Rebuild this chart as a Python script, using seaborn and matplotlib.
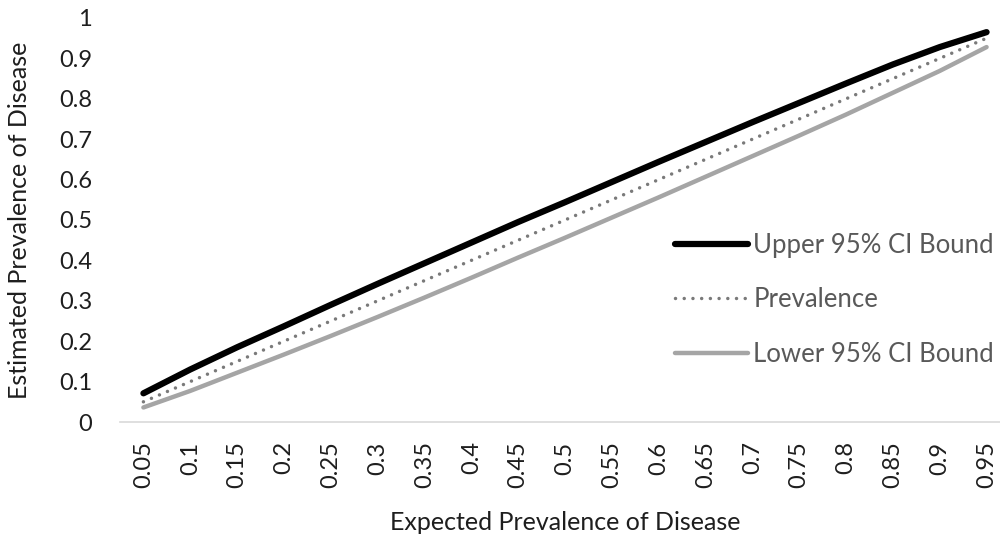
import matplotlib
matplotlib.use('Agg')
import matplotlib.pyplot as plt
import seaborn as sns
import pandas as pd

# 数据
expected = ['0.05', '0.1', '0.15', '0.2', '0.25', '0.3', '0.35', '0.4', '0.45', '0.5',
            '0.55', '0.6', '0.65', '0.7', '0.75', '0.8', '0.85', '0.9', '0.95']
prevalence = [0.05, 0.10, 0.15, 0.20, 0.25, 0.30, 0.35, 0.40, 0.45, 0.50,
              0.55, 0.60, 0.65, 0.70, 0.75, 0.80, 0.85, 0.90, 0.95]
upper = [0.071, 0.130, 0.185, 0.237, 0.290, 0.342, 0.393, 0.444, 0.495, 0.544,
         0.594, 0.644, 0.693, 0.742, 0.790, 0.838, 0.885, 0.928, 0.965]
lower = [0.036, 0.077, 0.122, 0.167, 0.213, 0.260, 0.308, 0.357, 0.407, 0.456,
         0.506, 0.556, 0.607, 0.658, 0.709, 0.761, 0.815, 0.869, 0.928]

df = pd.DataFrame({'x': expected, 'prev': prevalence, 'up': upper, 'lo': lower})

sns.set_style('white')
plt.rcParams['font.family'] = ['Lato', 'DejaVu Sans']
txt = '#1e1e1e'
leg_txt = '#595959'

fig = plt.figure(figsize=(10, 5.42), dpi=100)
ax = fig.add_axes([0.12, 0.2214, 0.89, 0.7454])

sns.lineplot(data=df, x='x', y='lo', ax=ax, color='#a5a5a5', lw=3.2,
             solid_capstyle='round', label='Lower 95% CI Bound', sort=False)
sns.lineplot(data=df, x='x', y='up', ax=ax, color='black', lw=4.5,
             solid_capstyle='round', label='Upper 95% CI Bound', sort=False)
sns.lineplot(data=df, x='x', y='prev', ax=ax, color='#7a7a7a', lw=2.5,
             linestyle=(0, (0.01, 2.5)), dash_capstyle='round', label='Prevalence', sort=False)

ax.set_xlim(-0.5, len(expected) - 0.5)
ax.set_ylim(0, 1)
ax.set_yticks([i / 10 for i in range(11)])
ax.set_yticklabels(['0'] + ['0.%d' % i for i in range(1, 10)] + ['1'])
ax.tick_params(axis='both', length=0, labelsize=17, colors=txt)
ax.tick_params(axis='x', rotation=90, pad=14)
ax.tick_params(axis='y', pad=20)

for s in ['top', 'right', 'left']:
    ax.spines[s].set_visible(False)
ax.spines['bottom'].set_color('#d9d9d9')
ax.spines['bottom'].set_linewidth(1.2)

ax.set_xlabel('Expected Prevalence of Disease', fontsize=18, color=txt, labelpad=16)
ax.set_ylabel('Estimated Prevalence of Disease', fontsize=18, color=txt, labelpad=20)

h, l = ax.get_legend_handles_labels()
order = [1, 2, 0]
ax.legend([h[i] for i in order], [l[i] for i in order], frameon=False,
          loc='center left', bbox_to_anchor=(0.6236, 0.302), fontsize=18.5,
          labelcolor=leg_txt, handlelength=2.85, handletextpad=0.2,
          labelspacing=1.15, borderpad=0, borderaxespad=0)

fig.savefig('out.png', dpi=100)
